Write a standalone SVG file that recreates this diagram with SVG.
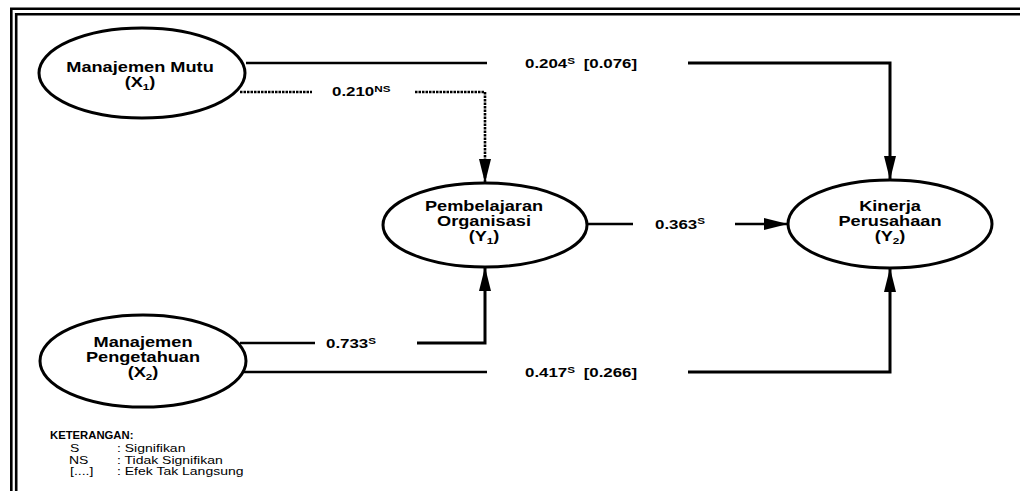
<svg xmlns="http://www.w3.org/2000/svg" width="1020" height="491" viewBox="0 0 1020 491">
<style>
.n{font-family:"Liberation Sans",Arial,sans-serif;font-weight:bold;font-size:14px;text-anchor:middle;fill:#000}
.l{font-family:"Liberation Sans",Arial,sans-serif;font-weight:bold;font-size:13px;fill:#000}
.k{font-family:"Liberation Sans",Arial,sans-serif;font-size:10px;fill:#000}
.kb{font-weight:bold;font-size:10px}
.e{fill:#fff;stroke:#000;stroke-width:3}
.c{fill:none;stroke:#000;stroke-width:2.5}
.cv{fill:none;stroke:#000;stroke-width:3}
.d{fill:none;stroke:#000;stroke-width:2.6;stroke-dasharray:2.5 1}
.f{fill:none;stroke:#000;stroke-width:2.6}
</style>
<defs>
<marker id="ah" markerUnits="userSpaceOnUse" markerWidth="26" markerHeight="14" refX="24" refY="7" orient="auto">
<path d="M0,1 L24,7 L0,13 Z" fill="#000"/>
</marker>
</defs>
<rect width="1020" height="491" fill="#fff"/>
<g id="frame">
<path class="f" d="M11.3,491 V8.7 H1020"/>
<path class="f" d="M16.2,491 V14.3 H1020"/>
</g>
<g id="connectors">
<path class="c" d="M246,63 H487"/>
<path class="cv" d="M688,63 H890 V180" marker-end="url(#ah)"/>
<path class="d" d="M240,92 H312"/>
<path class="d" d="M415,92 H485 V183" marker-end="url(#ah)"/>
<path class="c" d="M587,224 H633"/>
<path class="c" d="M735,224 H788" marker-end="url(#ah)"/>
<path class="c" d="M240,343 H315"/>
<path class="cv" d="M417,343 H485 V267" marker-end="url(#ah)"/>
<path class="c" d="M242,372 H487"/>
<path class="cv" d="M688,372 H890 V268" marker-end="url(#ah)"/>
</g>
<g id="labels">
<text class="l" transform="translate(525,68) scale(1.3,1)">0.204<tspan font-size="9" dy="-4.5">S</tspan><tspan dy="4.5" dx="3"> [0.076]</tspan></text>
<text class="l" transform="translate(332,96) scale(1.3,1)">0.210<tspan font-size="9" dy="-4.5">NS</tspan></text>
<text class="l" transform="translate(655,228.5) scale(1.3,1)">0.363<tspan font-size="9" dy="-4.5">S</tspan></text>
<text class="l" transform="translate(326,348) scale(1.3,1)">0.733<tspan font-size="9" dy="-4.5">S</tspan></text>
<text class="l" transform="translate(525,377) scale(1.3,1)">0.417<tspan font-size="9" dy="-4.5">S</tspan><tspan dy="4.5" dx="3"> [0.266]</tspan></text>
</g>
<g id="X1">
<ellipse class="e" cx="142" cy="73" rx="103" ry="45"/>
<text class="n" transform="translate(140,72) scale(1.3,1)">Manajemen Mutu</text>
<text class="n" transform="translate(140,87) scale(1.3,1)">(X<tspan font-size="9" dy="3">1</tspan><tspan dy="-3">)</tspan></text>
</g>
<g id="X2">
<ellipse class="e" cx="143" cy="361" rx="103" ry="46"/>
<text class="n" transform="translate(143,347) scale(1.3,1)">Manajemen</text>
<text class="n" transform="translate(143,362) scale(1.3,1)">Pengetahuan</text>
<text class="n" transform="translate(143,377) scale(1.3,1)">(X<tspan font-size="9" dy="3">2</tspan><tspan dy="-3">)</tspan></text>
</g>
<g id="Y1">
<ellipse class="e" cx="485" cy="225" rx="102" ry="42"/>
<text class="n" transform="translate(484,211) scale(1.3,1)">Pembelajaran</text>
<text class="n" transform="translate(484,226) scale(1.3,1)">Organisasi</text>
<text class="n" transform="translate(484,241) scale(1.3,1)">(Y<tspan font-size="9" dy="3">1</tspan><tspan dy="-3">)</tspan></text>
</g>
<g id="Y2">
<ellipse class="e" cx="890" cy="224" rx="102" ry="44"/>
<text class="n" transform="translate(890,211) scale(1.3,1)">Kinerja</text>
<text class="n" transform="translate(890,226) scale(1.3,1)">Perusahaan</text>
<text class="n" transform="translate(890,241) scale(1.3,1)">(Y<tspan font-size="9" dy="3">2</tspan><tspan dy="-3">)</tspan></text>
</g>
<g id="legend">
<text class="k kb" transform="translate(50,439) scale(1.13,1)">KETERANGAN:</text>
<text class="k" transform="translate(70,452) scale(1.4,1)">S</text>
<text class="k" transform="translate(117,452) scale(1.4,1)">: Signifikan</text>
<text class="k" transform="translate(69,463.5) scale(1.4,1)">NS</text>
<text class="k" transform="translate(117,463.5) scale(1.4,1)">: Tidak Signifikan</text>
<text class="k" transform="translate(70,475) scale(1.4,1)">[....]</text>
<text class="k" transform="translate(117,475) scale(1.4,1)">: Efek Tak Langsung</text>
</g>
</svg>
